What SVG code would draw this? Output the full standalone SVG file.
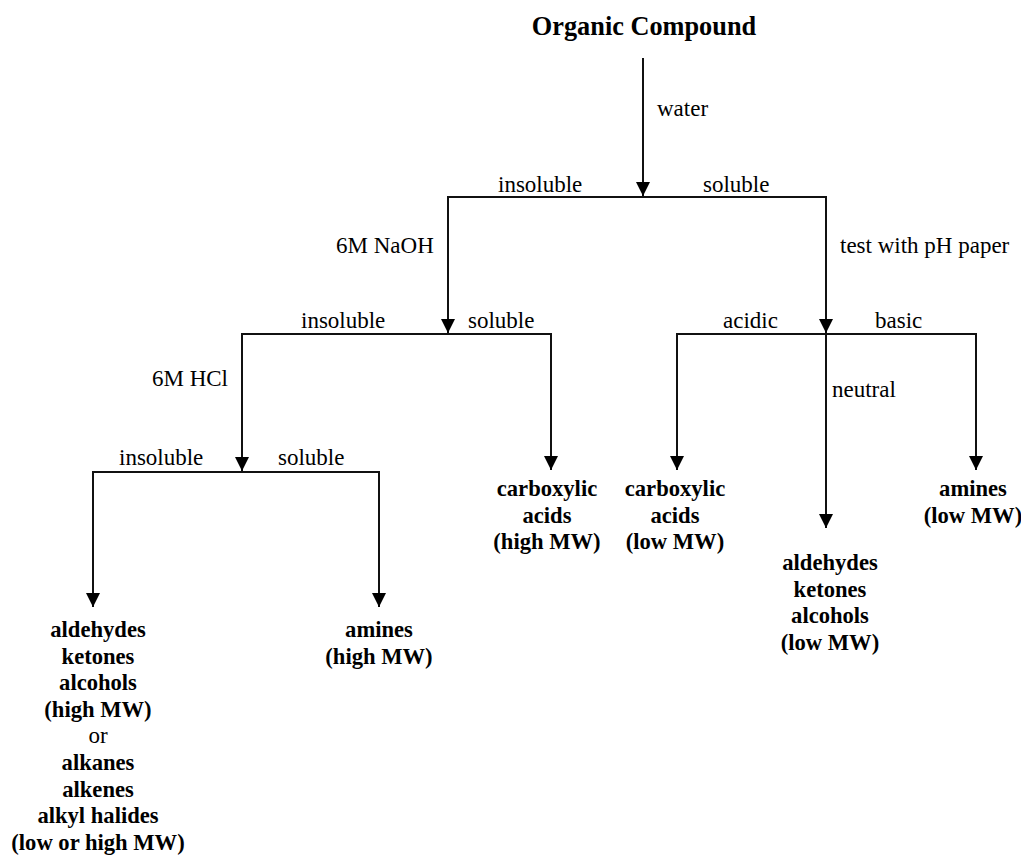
<svg xmlns="http://www.w3.org/2000/svg" width="1021" height="861" viewBox="0 0 1021 861" font-family="Liberation Serif, Times New Roman, serif">
<style>
.lbl{font-family:'Liberation Serif','Times New Roman',serif;font-size:23px;fill:#000}
.node{font-family:'Liberation Serif','Times New Roman',serif;font-size:22.6px;font-weight:bold;text-anchor:middle;fill:#000}
.title{font-family:'Liberation Serif','Times New Roman',serif;font-size:26.3px;font-weight:bold;text-anchor:middle;fill:#000}
.ln{stroke:#111;stroke-width:2;fill:none}
</style>
<defs>
<marker id="ah" viewBox="0 0 14 14" refX="14" refY="7" markerWidth="14" markerHeight="14" markerUnits="userSpaceOnUse" orient="auto">
<path d="M0,0 L14,7 L0,14 Z" fill="#000"/>
</marker>
</defs>
<rect width="1021" height="861" fill="#fff"/>
<g id="connectors">
<line class="ln" x1="643" y1="58" x2="643" y2="196" marker-end="url(#ah)"/>
<polyline class="ln" points="448,333 448,197 826,197 826,333"/>
<line class="ln" x1="448" y1="300" x2="448" y2="333" marker-end="url(#ah)"/>
<line class="ln" x1="826" y1="300" x2="826" y2="333" marker-end="url(#ah)"/>
<polyline class="ln" points="242,471 242,334 551,334 551,470" marker-end="url(#ah)"/>
<line class="ln" x1="242" y1="440" x2="242" y2="471" marker-end="url(#ah)"/>
<polyline class="ln" points="677,470 677,334 976,334 976,470" marker-end="url(#ah)"/>
<line class="ln" x1="677" y1="440" x2="677" y2="470" marker-end="url(#ah)"/>
<line class="ln" x1="826" y1="334" x2="826" y2="528" marker-end="url(#ah)"/>
<polyline class="ln" points="93,607 93,472 379,472 379,607" marker-end="url(#ah)"/>
<line class="ln" x1="93" y1="580" x2="93" y2="607" marker-end="url(#ah)"/>
</g>
<g id="labels">
<text class="lbl" x="657" y="116">water</text>
<text class="lbl" x="498" y="192">insoluble</text>
<text class="lbl" x="703" y="192">soluble</text>
<text class="lbl" x="336" y="253">6M NaOH</text>
<text class="lbl" x="840" y="253">test with pH paper</text>
<text class="lbl" x="301" y="328">insoluble</text>
<text class="lbl" x="468" y="328">soluble</text>
<text class="lbl" x="723" y="328">acidic</text>
<text class="lbl" x="875" y="328">basic</text>
<text class="lbl" x="832" y="397">neutral</text>
<text class="lbl" x="228" y="386" text-anchor="end">6M HCl</text>
<text class="lbl" x="119" y="465">insoluble</text>
<text class="lbl" x="278" y="465">soluble</text>
</g>
<g id="n-root"><text class="title" x="644" y="35">Organic Compound</text></g>
<g id="n-carb-high">
<text class="node" x="547" y="496">carboxylic</text>
<text class="node" x="547" y="522.5">acids</text>
<text class="node" x="547" y="549">(high MW)</text>
</g>
<g id="n-carb-low">
<text class="node" x="675" y="496">carboxylic</text>
<text class="node" x="675" y="522.5">acids</text>
<text class="node" x="675" y="549">(low MW)</text>
</g>
<g id="n-amines-low">
<text class="node" x="973" y="496">amines</text>
<text class="node" x="973" y="522.5">(low MW)</text>
</g>
<g id="n-neutral-low">
<text class="node" x="830" y="570">aldehydes</text>
<text class="node" x="830" y="596.5">ketones</text>
<text class="node" x="830" y="623">alcohols</text>
<text class="node" x="830" y="649.5">(low MW)</text>
</g>
<g id="n-amines-high">
<text class="node" x="379" y="637">amines</text>
<text class="node" x="379" y="663.5">(high MW)</text>
</g>
<g id="n-neutral-high">
<text class="node" x="98" y="637">aldehydes</text>
<text class="node" x="98" y="663.6">ketones</text>
<text class="node" x="98" y="690.2">alcohols</text>
<text class="node" x="98" y="716.8">(high MW)</text>
<text class="lbl" x="98" y="743.4" text-anchor="middle">or</text>
<text class="node" x="98" y="770">alkanes</text>
<text class="node" x="98" y="796.6">alkenes</text>
<text class="node" x="98" y="823.2">alkyl halides</text>
<text class="node" x="98" y="849.8">(low or high MW)</text>
</g>
</svg>
